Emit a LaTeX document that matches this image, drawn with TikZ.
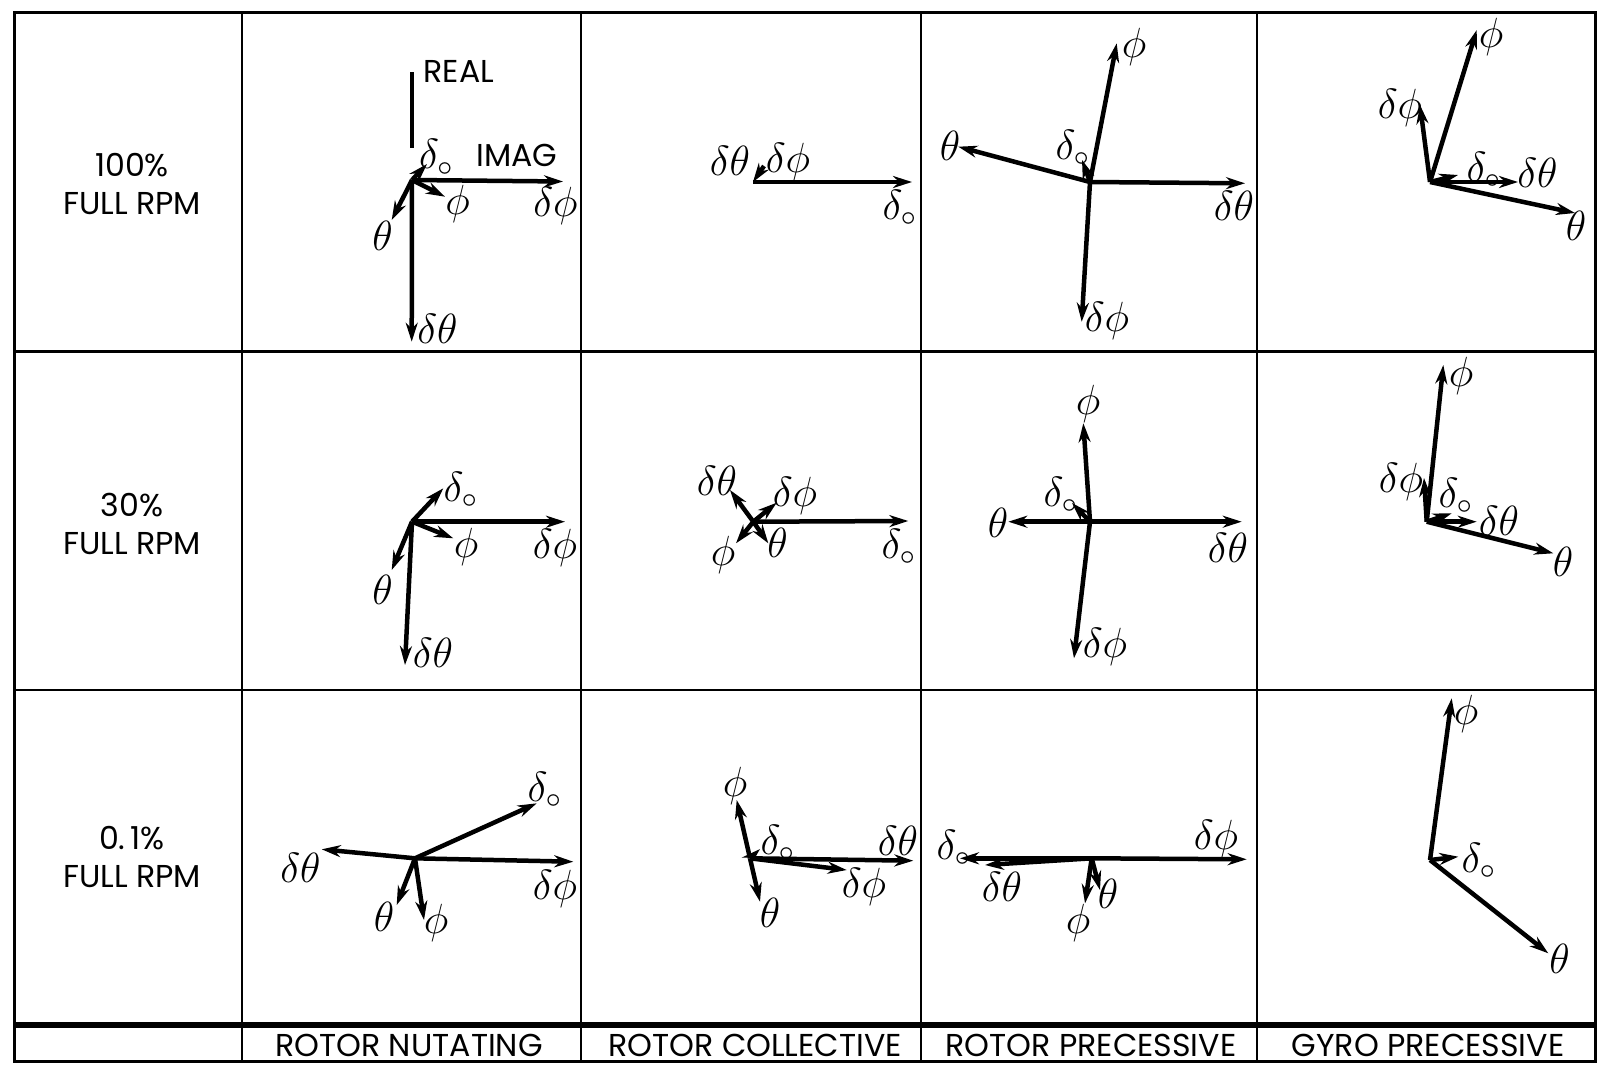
\documentclass[tikz,border=0pt]{standalone}
\usepackage{fontspec}
\setmainfont{Poppins}
\usetikzlibrary{arrows.meta}
\tikzset{
  every picture/.style={font=\fontsize{9}{11}\selectfont},
  rot vec/.style={-{Stealth[length=1.9mm,width=1.2mm]}, line width=0.45mm, line cap=butt},
  rot axis/.style={line width=0.35mm},
  rot rule/.style={line width=0.22mm},
  rot frame/.style={line width=0.3mm},
  rot band/.style={line width=0.6mm},
  rot lbl/.style={inner sep=0pt, font=\fontsize{11.5}{13}\selectfont},
  rot head/.style={align=center, inner sep=0pt, font=\fontsize{9}{10.8}\selectfont},
  rot mode/.style={inner sep=0pt, font=\fontsize{9}{11}\selectfont}
}

\begin{document}
\begin{tikzpicture}[x=0.1mm,y=-0.1mm]
  \useasboundingbox (0,0) rectangle (1598,1064);
  % table
  \draw[rot frame] (14,12) rectangle (1595,1061);
  \foreach \gx in {242,581,921,1257} \draw[rot rule] (\gx,12) -- (\gx,1061);
  \draw[rot rule] (14,351.5) -- (1595,351.5);
  \draw[rot rule] (14,690) -- (1595,690);
  \draw[rot band] (14,1025) -- (1595,1025);
  \node[rot head] (h1) at (132,184) {100\%\\FULL RPM};
  \node[rot head] (h2) at (132,524) {30\%\\FULL RPM};
  \node[rot head] (h3) at (132,857) {0.\,1\%\\FULL RPM};
  \node[rot mode] (m1) at (409,1045) {ROTOR NUTATING};
  \node[rot mode] (m2) at (755,1045) {ROTOR COLLECTIVE};
  \node[rot mode] (m3) at (1091,1045) {ROTOR PRECESSIVE};
  \node[rot mode] (m4) at (1428,1045) {GYRO PRECESSIVE};

  % 100% full rpm
  \coordinate (o11) at (412,180);
  \draw[rot axis] (412,72) -- (412,148);
  \node[rot mode, anchor=west] (real11) at (423,71) {REAL};
  \node[rot mode] (imag11) at (517,155) {IMAG};
  \foreach \tx/\ty/\lx/\ly/\lab [count=\i] in {427/164/436.5/157.5/{$\delta_\circ$},
      563/181.5/555.5/206/{$\delta\phi$}, 445/196.7/457.5/204/{$\phi$},
      391.7/220/382.5/235.5/{$\theta$}, 411.7/341.7/437.5/329/{$\delta\theta$}}{
    \coordinate (t11-\i) at (\tx,\ty);
    \draw[rot vec] (o11) -- (t11-\i);
    \node[rot lbl] (n11-\i) at (\lx,\ly) {\lab};
  }
  \coordinate (o12) at (753,182);
  \coordinate (q12) at (764,166);
  \draw[rot vec] (q12) -- (o12);
  \node[rot lbl] (n12-2) at (730,161) {$\delta\theta$};
  \node[rot lbl] (n12-3) at (788,162) {$\delta\phi$};
  \foreach \tx/\ty/\lx/\ly/\lab [count=\i] in {912/182/900/208/{$\delta_\circ$}}{
    \coordinate (t12-\i) at (\tx,\ty);
    \draw[rot vec] (o12) -- (t12-\i);
    \node[rot lbl] (n12-\i) at (\lx,\ly) {\lab};
  }
  \coordinate (o13) at (1090,182);
  \foreach \tx/\ty/\lx/\ly/\lab [count=\i] in {1116.7/43.3/1134/47/{$\phi$},
      958.3/146.7/950/146/{$\theta$}, 1245/183.3/1234/206/{$\delta\theta$},
      1081.7/321.7/1107/321/{$\delta\phi$}, 1082/160/1073/148/{$\delta_\circ$}}{
    \coordinate (t13-\i) at (\tx,\ty);
    \draw[rot vec] (o13) -- (t13-\i);
    \node[rot lbl] (n13-\i) at (\lx,\ly) {\lab};
  }
  \coordinate (o14) at (1430,182);
  \foreach \tx/\ty/\lx/\ly/\lab [count=\i] in {1476.7/30/1491/37/{$\phi$},
      1420/105/1400/108/{$\delta\phi$}, 1458/175/1484/170/{$\delta_\circ$},
      1518/182/1537.5/173/{$\delta\theta$}, 1575/213/1576/226/{$\theta$}}{
    \coordinate (t14-\i) at (\tx,\ty);
    \draw[rot vec] (o14) -- (t14-\i);
    \node[rot lbl] (n14-\i) at (\lx,\ly) {\lab};
  }

  % 30% full rpm
  \coordinate (o21) at (412,521.7);
  \foreach \tx/\ty/\lx/\ly/\lab [count=\i] in {443.3/488.3/461/490/{$\delta_\circ$},
      565/521.7/555/548/{$\delta\phi$}, 453.3/538.3/466/547/{$\phi$},
      391.7/570/382.5/590/{$\theta$}, 405/665/433/653/{$\delta\theta$}}{
    \coordinate (t21-\i) at (\tx,\ty);
    \draw[rot vec] (o21) -- (t21-\i);
    \node[rot lbl] (n21-\i) at (\lx,\ly) {\lab};
  }
  \coordinate (o22) at (753.3,521.7);
  \foreach \tx/\ty/\lx/\ly/\lab [count=\i] in {908.3/521/899/547/{$\delta_\circ$},
      730/490/717/481/{$\delta\theta$}, 776.7/502.7/795/496/{$\delta\phi$},
      736/543.3/723/555/{$\phi$}, 768.3/543.3/777.5/542.5/{$\theta$}}{
    \coordinate (t22-\i) at (\tx,\ty);
    \draw[rot vec] (o22) -- (t22-\i);
    \node[rot lbl] (n22-\i) at (\lx,\ly) {\lab};
  }
  \coordinate (o23) at (1090,521.7);
  \foreach \tx/\ty/\lx/\ly/\lab [count=\i] in {1083.3/423.3/1088/404/{$\phi$},
      1008.3/521.7/998/523/{$\theta$}, 1241.7/521.7/1228/548/{$\delta\theta$},
      1074/658.3/1105/647/{$\delta\phi$}, 1072/503/1061/495/{$\delta_\circ$}}{
    \coordinate (t23-\i) at (\tx,\ty);
    \draw[rot vec] (o23) -- (t23-\i);
    \node[rot lbl] (n23-\i) at (\lx,\ly) {\lab};
  }
  \coordinate (o24) at (1426.7,521.7);
  \foreach \tx/\ty/\lx/\ly/\lab [count=\i] in {1443.3/365/1461/376/{$\phi$},
      1424/478/1401/482/{$\delta\phi$}, 1451.7/513.3/1456/496/{$\delta_\circ$},
      1476.7/521.7/1499/521/{$\delta\theta$}, 1553.3/553.3/1563/562/{$\theta$}}{
    \coordinate (t24-\i) at (\tx,\ty);
    \draw[rot vec] (o24) -- (t24-\i);
    \node[rot lbl] (n24-\i) at (\lx,\ly) {\lab};
  }

  % 0.1% full rpm
  \coordinate (o31) at (415,858.3);
  \foreach \tx/\ty/\lx/\ly/\lab [count=\i] in {536.7/803.3/545/790/{$\delta_\circ$},
      573.3/861.7/555/889/{$\delta\phi$}, 321.7/849.3/300.5/867.5/{$\delta\theta$},
      396.7/905/384/916.5/{$\theta$}, 424/920/436/923/{$\phi$}}{
    \coordinate (t31-\i) at (\tx,\ty);
    \draw[rot vec] (o31) -- (t31-\i);
    \node[rot lbl] (n31-\i) at (\lx,\ly) {\lab};
  }
  \coordinate (o32) at (750,858.3);
  \foreach \tx/\ty/\lx/\ly/\lab [count=\i] in {736.7/800/735/786/{$\phi$},
      760/901.7/770/913/{$\theta$}, 913.3/860.7/898/841/{$\delta\theta$},
      846.7/870/864/887/{$\delta\phi$}, 760/849/778/843/{$\delta_\circ$}}{
    \coordinate (t32-\i) at (\tx,\ty);
    \draw[rot vec] (o32) -- (t32-\i);
    \node[rot lbl] (n32-\i) at (\lx,\ly) {\lab};
  }
  \coordinate (o33) at (1091.7,858.3);
  \foreach \tx/\ty/\lx/\ly/\lab [count=\i] in {1246.7/859.3/1216/839/{$\delta\phi$},
      960/858.3/954/848/{$\delta_\circ$}, 985/865/1002/887/{$\delta\theta$},
      1100/890/1108/894/{$\theta$}, 1085/903.3/1078/923/{$\phi$}}{
    \coordinate (t33-\i) at (\tx,\ty);
    \draw[rot vec] (o33) -- (t33-\i);
    \node[rot lbl] (n33-\i) at (\lx,\ly) {\lab};
  }
  \coordinate (o34) at (1430,860);
  \foreach \tx/\ty/\lx/\ly/\lab [count=\i] in {1451.7/698.3/1466/714/{$\phi$},
      1458.3/856.7/1479/861/{$\delta_\circ$}, 1548.3/953.3/1559.5/959/{$\theta$}}{
    \coordinate (t34-\i) at (\tx,\ty);
    \draw[rot vec] (o34) -- (t34-\i);
    \node[rot lbl] (n34-\i) at (\lx,\ly) {\lab};
  }
\end{tikzpicture}
\end{document}
